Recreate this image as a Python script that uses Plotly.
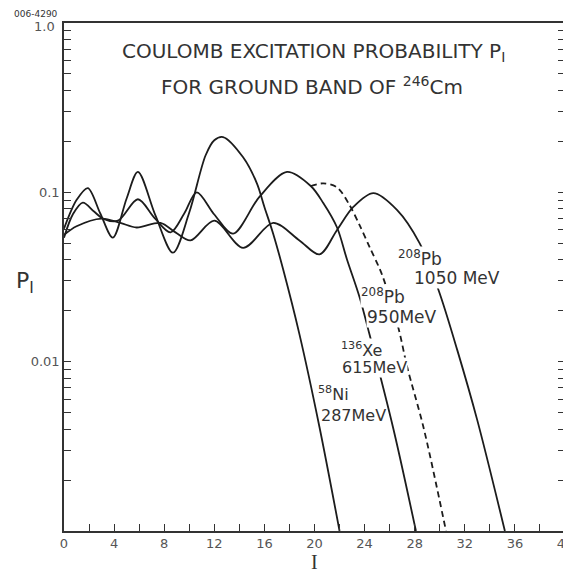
import plotly.graph_objects as go

# ---- data (I = spin, P = excitation probability) ----
I_ni = [0, 1.0, 1.9, 2.9, 3.9, 5.0, 5.9, 7.3, 8.7, 10.0, 11.3, 12.0, 12.7, 14.3, 15.4, 16.0, 16.7, 17.5, 18.8, 20.4, 22.0]
P_ni = [0.061, 0.090, 0.106, 0.075, 0.054, 0.092, 0.132, 0.073, 0.044, 0.076, 0.165, 0.203, 0.212, 0.161, 0.113, 0.082, 0.057, 0.035, 0.0145, 0.0041, 0.001]

I_xe = [0, 0.7, 1.5, 2.4, 3.1, 4.3, 5.9, 7.2, 8.5, 9.6, 10.6, 12.0, 13.5, 15.6, 17.8, 19.7, 20.7, 21.8, 22.6, 23.6, 24.4, 26.3, 28.1]
P_xe = [0.054, 0.074, 0.087, 0.077, 0.070, 0.068, 0.091, 0.071, 0.058, 0.075, 0.100, 0.074, 0.057, 0.094, 0.132, 0.109, 0.0865, 0.062, 0.040, 0.024, 0.0144, 0.0040, 0.001]

I_pb950 = [19.7, 20.7, 21.8, 22.8, 23.6, 24.4, 25.4, 26.7, 27.4, 28.7, 30.5]
P_pb950 = [0.109, 0.113, 0.107, 0.084, 0.064, 0.0475, 0.0325, 0.0158, 0.0093, 0.0041, 0.001]

I_pb1050 = [0, 1.0, 3.0, 4.5, 5.8, 7.7, 8.9, 10.1, 12.0, 14.3, 16.7, 18.8, 20.4, 21.8, 23.1, 24.7, 26.6, 28.4, 29.9, 31.4, 33.0, 35.2]
P_pb1050 = [0.056, 0.063, 0.070, 0.066, 0.062, 0.066, 0.058, 0.052, 0.068, 0.047, 0.066, 0.052, 0.043, 0.060, 0.082, 0.099, 0.0786, 0.050, 0.0265, 0.0117, 0.0045, 0.001]

x_ticks = list(range(0, 41, 2))
x_ticktext = [str(v) if v % 4 == 0 else " " for v in x_ticks]
y_ticks = [m * d for d in (0.001, 0.01, 0.1) for m in range(1, 10)] + [1.0]
y_label_map = {0.01: "0.01", 0.1: "0.1"}
y_ticktext = [y_label_map.get(round(v, 6), " ") for v in y_ticks]
y_top_label = "1.0"

LINE = "#1c1c1c"
TXT = "#333333"
FONT = "DejaVu Sans"

fig = go.Figure()
for xs, ys, dash in [(I_ni, P_ni, "solid"), (I_xe, P_xe, "solid"),
                     (I_pb950, P_pb950, "6px,4px"), (I_pb1050, P_pb1050, "solid")]:
    fig.add_trace(go.Scatter(x=xs, y=ys, mode="lines", showlegend=False, hoverinfo="skip",
                             line=dict(color=LINE, width=1.8, shape="spline", smoothing=0.9, dash=dash)))

# plot area in window pixels: x 64..565, y 23..531 ; page body has an 8px margin
OFF = 8
W, H = 571 - OFF, 573 - OFF
L, R, T, B = 64, 565, 23, 531
def px(x, y):
    return (x - L) / (R - L), (B - y) / (B - T)

def ann(text, x, y, size, xanchor="left", color=TXT, bg=None, family=FONT):
    xp, yp = px(x, y)
    fig.add_annotation(text=text, x=xp, y=yp, xref="paper", yref="paper", showarrow=False,
                       xanchor=xanchor, yanchor="middle", font=dict(family=family, size=size, color=color),
                       bgcolor=bg, borderpad=0)

# titles
ann("COULOMB EXCITATION PROBABILITY P<sub>I</sub>", 313, 52, 20, xanchor="center")
ann("FOR GROUND BAND OF <sup>246</sup>Cm", 312, 86, 20, xanchor="center")
# curve labels
ann("<sup>208</sup>Pb", 397, 258, 17, bg="white")
ann("1050 MeV", 413, 278, 17, bg="white")
ann("<sup>208</sup>Pb", 360, 296, 17, bg="white")
ann("950MeV", 366, 317, 17, bg="white")
ann("<sup>136</sup>Xe", 340, 349, 16, bg="white")
ann("615MeV", 341, 367, 16, bg="white")
ann("<sup>58</sup>Ni", 317, 393, 16)
ann("287MeV", 320, 415, 16)
# corner id, top tick label and axis titles
ann("006-4290", 13, 14, 9)
ann(y_top_label, 56, 27, 13, xanchor="right", color="#555")
ann("P<sub>I</sub>", 15, 282, 22)
ann("I", 314, 562, 20, xanchor="center", family="Liberation Serif")

axis_common = dict(showline=True, linecolor="#333", linewidth=1.5, ticks="inside", ticklen=7,
                   tickcolor="#333", tickwidth=1.4, showgrid=False, zeroline=False,
                   automargin=False, ticklabeloverflow="allow",
                   tickfont=dict(family=FONT, size=13, color="#555"))
fig.update_xaxes(range=[0, 40], tickmode="array", tickvals=x_ticks, ticktext=x_ticktext,
                 mirror=True, **axis_common)
fig.update_yaxes(type="log", range=[-3, 0], tickmode="array", tickvals=y_ticks, ticktext=y_ticktext,
                 mirror="ticks", **axis_common)
fig.update_layout(width=W, height=H,
                  margin=dict(l=L - OFF, r=W - (R - OFF), t=T - OFF, b=H - (B - OFF), autoexpand=False),
                  paper_bgcolor="white", plot_bgcolor="white")
fig.write_html("out.html")
